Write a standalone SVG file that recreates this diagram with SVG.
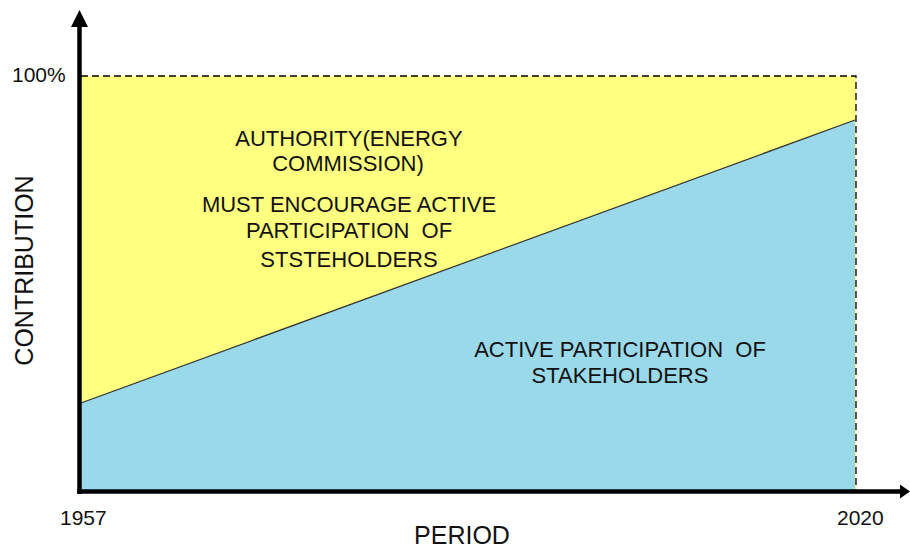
<svg xmlns="http://www.w3.org/2000/svg" width="910" height="549" viewBox="0 0 910 549">
<style>
text{font-family:"Liberation Sans",Arial,sans-serif;fill:#111;white-space:pre}
.lbl{font-size:22px;text-anchor:middle}
.tick{font-size:21px}
.axis{stroke:#000;stroke-width:4.5;fill:none}
.dash{stroke:#000;stroke-width:1.3;stroke-dasharray:7,4;fill:none}
</style>
<rect width="910" height="549" fill="#fff"/>
<g id="areas">
<polygon id="yellow-area" points="81,76 856,76 856,490 81,490" fill="#FFFF80"/>
<polygon id="blue-area" points="81,403 855,120 855,490 81,490" fill="#99D9EA"/>
<line x1="81" y1="403" x2="855" y2="120" stroke="#333" stroke-width="1.2"/>
</g>
<g id="connectors">
<path class="dash" d="M81,76 H856 V490"/>
<line class="axis" x1="79.5" y1="24" x2="79.5" y2="494"/>
<line class="axis" x1="77.3" y1="491.5" x2="902" y2="491.5"/>
<polygon points="79.5,10 71,27 88,27" fill="#000"/>
<polygon points="910,491.5 900,484.5 900,498.5" fill="#000"/>
</g>
<g id="labels">
<text class="tick" x="12" y="82">100%</text>
<text class="tick" x="60" y="525">1957</text>
<text class="tick" x="837" y="525">2020</text>
<text x="462" y="544" style="font-size:25px;text-anchor:middle">PERIOD</text>
<text transform="translate(33,270.5) rotate(-90)" style="font-size:25px;text-anchor:middle">CONTRIBUTION</text>
</g>
<g id="authority-text">
<text class="lbl" x="349" y="146">AUTHORITY(ENERGY</text>
<text class="lbl" x="348" y="171">COMMISSION)</text>
<text class="lbl" x="349" y="212">MUST ENCOURAGE ACTIVE</text>
<text class="lbl" x="349" y="238">PARTICIPATION  OF</text>
<text class="lbl" x="349" y="267">STSTEHOLDERS</text>
</g>
<g id="stakeholder-text">
<text class="lbl" x="620" y="357">ACTIVE PARTICIPATION  OF</text>
<text class="lbl" x="620" y="383">STAKEHOLDERS</text>
</g>
</svg>
